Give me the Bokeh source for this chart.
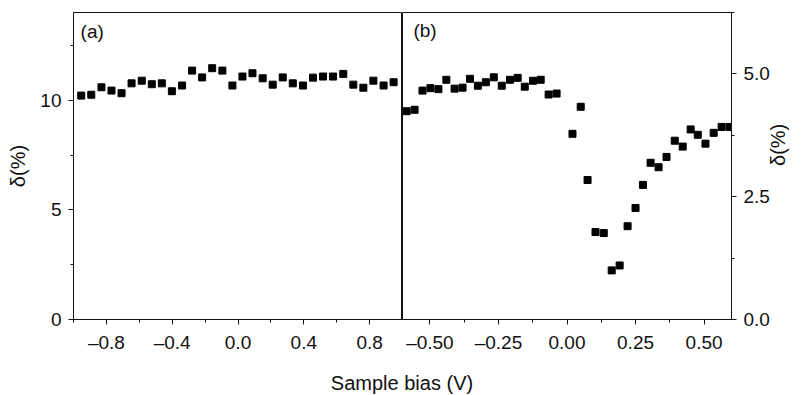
import math
from bokeh.plotting import figure
from bokeh.layouts import column, row
from bokeh.models import FixedTicker, CustomJSTickFormatter, Label, Range1d
from bokeh.embed import file_html
from bokeh.resources import INLINE

# ---- data ----
bias_a = [-0.953, -0.892, -0.830, -0.769, -0.708, -0.647, -0.585, -0.524,
          -0.463, -0.402, -0.340, -0.279, -0.218, -0.157, -0.095, -0.034,
          0.027, 0.088, 0.150, 0.211, 0.272, 0.333, 0.395, 0.456,
          0.517, 0.578, 0.640, 0.701, 0.762, 0.823, 0.885, 0.946]
delta_a = [10.21, 10.25, 10.59, 10.44, 10.32, 10.77, 10.89, 10.73,
           10.77, 10.41, 10.67, 11.35, 11.04, 11.46, 11.35, 10.67,
           11.08, 11.23, 11.00, 10.71, 11.04, 10.77, 10.67, 11.03,
           11.08, 11.08, 11.20, 10.71, 10.57, 10.89, 10.67, 10.82]

bias_b = [-0.585, -0.556, -0.527, -0.498, -0.469, -0.440, -0.410, -0.381,
          -0.354, -0.325, -0.296, -0.267, -0.238, -0.208, -0.180, -0.154,
          -0.124, -0.096, -0.067, -0.038, 0.020, 0.050, 0.075, 0.104,
          0.134, 0.163, 0.192, 0.221, 0.250, 0.277, 0.305, 0.334,
          0.363, 0.393, 0.422, 0.451, 0.477, 0.505, 0.535, 0.564, 0.593]
delta_b = [4.24, 4.27, 4.66, 4.71, 4.69, 4.88, 4.70, 4.72,
           4.90, 4.76, 4.83, 4.93, 4.76, 4.88, 4.92, 4.74,
           4.86, 4.88, 4.58, 4.60, 3.78, 4.33, 2.84, 1.78,
           1.76, 1.00, 1.10, 1.90, 2.27, 2.74, 3.19, 3.10,
           3.31, 3.64, 3.52, 3.87, 3.76, 3.58, 3.80, 3.92, 3.92]

xticks_a = [-0.8, -0.4, 0.0, 0.4, 0.8]
xminor_a = [-1.0, -0.6, -0.2, 0.2, 0.6, 1.0]
yticks_a = [0, 5, 10]
yminor_a = [2.5, 7.5, 12.5]
xticks_b = [-0.5, -0.25, 0.0, 0.25, 0.5]
xminor_b = [-0.375, -0.125, 0.125, 0.375]
yticks_b = [0.0, 2.5, 5.0]
yminor_b = [1.25, 3.75, 6.25]

FONT = "Liberation Sans"
FS = "19px"
FS_LABEL = "20px"
INK = "#111111"


def fmt(nd):
    return CustomJSTickFormatter(
        code="return tick.toFixed(%d).replace('-', '\\u2013');" % nd)


def style_axis(ax):
    ax.axis_line_color = INK
    ax.major_tick_line_color = INK
    ax.minor_tick_line_color = INK
    ax.major_tick_out = 5
    ax.major_tick_in = 0
    ax.minor_tick_out = 3
    ax.minor_tick_in = 0
    ax.major_label_text_font = FONT
    ax.major_label_text_font_size = FS
    ax.major_label_text_color = INK
    ax.axis_label_text_font = FONT
    ax.axis_label_text_font_size = FS_LABEL
    ax.axis_label_text_font_style = "normal"
    ax.axis_label_text_color = INK
    ax.major_label_standoff = 7


def base(width, **kw):
    p = figure(width=width, height=355, output_backend="svg",
               toolbar_location=None, min_border_top=12, **kw)
    p.grid.visible = False
    p.outline_line_color = INK
    p.outline_line_width = 1
    p.background_fill_color = "white"
    p.border_fill_color = "white"
    return p


# ---- panel (a) ----
pa = base(402, x_range=Range1d(-1.0, 1.0), y_range=Range1d(0, 14),
          min_border_left=73, min_border_right=0, min_border_bottom=36)
pa.square(bias_a, delta_a, size=7, color="black")
pa.xaxis.ticker = FixedTicker(ticks=xticks_a, minor_ticks=xminor_a)
pa.xaxis.formatter = fmt(1)
pa.yaxis.ticker = FixedTicker(ticks=yticks_a, minor_ticks=yminor_a)
pa.yaxis.formatter = fmt(0)
pa.yaxis.axis_label = "δ(%)"
for ax in pa.xaxis + pa.yaxis:
    style_axis(ax)
pa.yaxis.axis_label_standoff = 8
pa.add_layout(Label(x=-0.957, y=13.63, text="(a)", text_font=FONT,
                    text_font_size=FS, text_color=INK, text_baseline="top"))

# ---- panel (b) ----
pb = base(401, x_range=Range1d(-0.6, 0.6), y_range=Range1d(0, 6.25),
          y_axis_location="right",
          min_border_left=0, min_border_right=72, min_border_bottom=36)
pb.square(bias_b, delta_b, size=7, color="black")
pb.xaxis.ticker = FixedTicker(ticks=xticks_b, minor_ticks=xminor_b)
pb.xaxis.formatter = fmt(2)
pb.yaxis.ticker = FixedTicker(ticks=yticks_b, minor_ticks=yminor_b)
pb.yaxis.formatter = fmt(1)
pb.yaxis.axis_label = "δ(%)"
for ax in pb.xaxis + pb.yaxis:
    style_axis(ax)
pb.yaxis.axis_label_standoff = 5
pb.yaxis.axis_label_orientation = math.pi / 2
pb.add_layout(Label(x=-0.56, y=6.09, text="(b)", text_font=FONT,
                    text_font_size=FS, text_color=INK, text_baseline="top"))

# ---- shared x label ----
pl = figure(width=803, height=40, output_backend="svg", toolbar_location=None,
            x_range=Range1d(0, 1), y_range=Range1d(0, 1),
            x_axis_location=None, y_axis_location=None,
            min_border=0)
pl.grid.visible = False
pl.outline_line_color = None
pl.add_layout(Label(x=0.5, y=0.05, text="Sample bias (V)", text_font=FONT,
                    text_font_size=FS_LABEL, text_color=INK,
                    text_align="center", text_baseline="bottom"))

layout = column(row(pa, pb), pl)

with open("out.html", "w") as f:
    f.write(file_html(layout, INLINE))
